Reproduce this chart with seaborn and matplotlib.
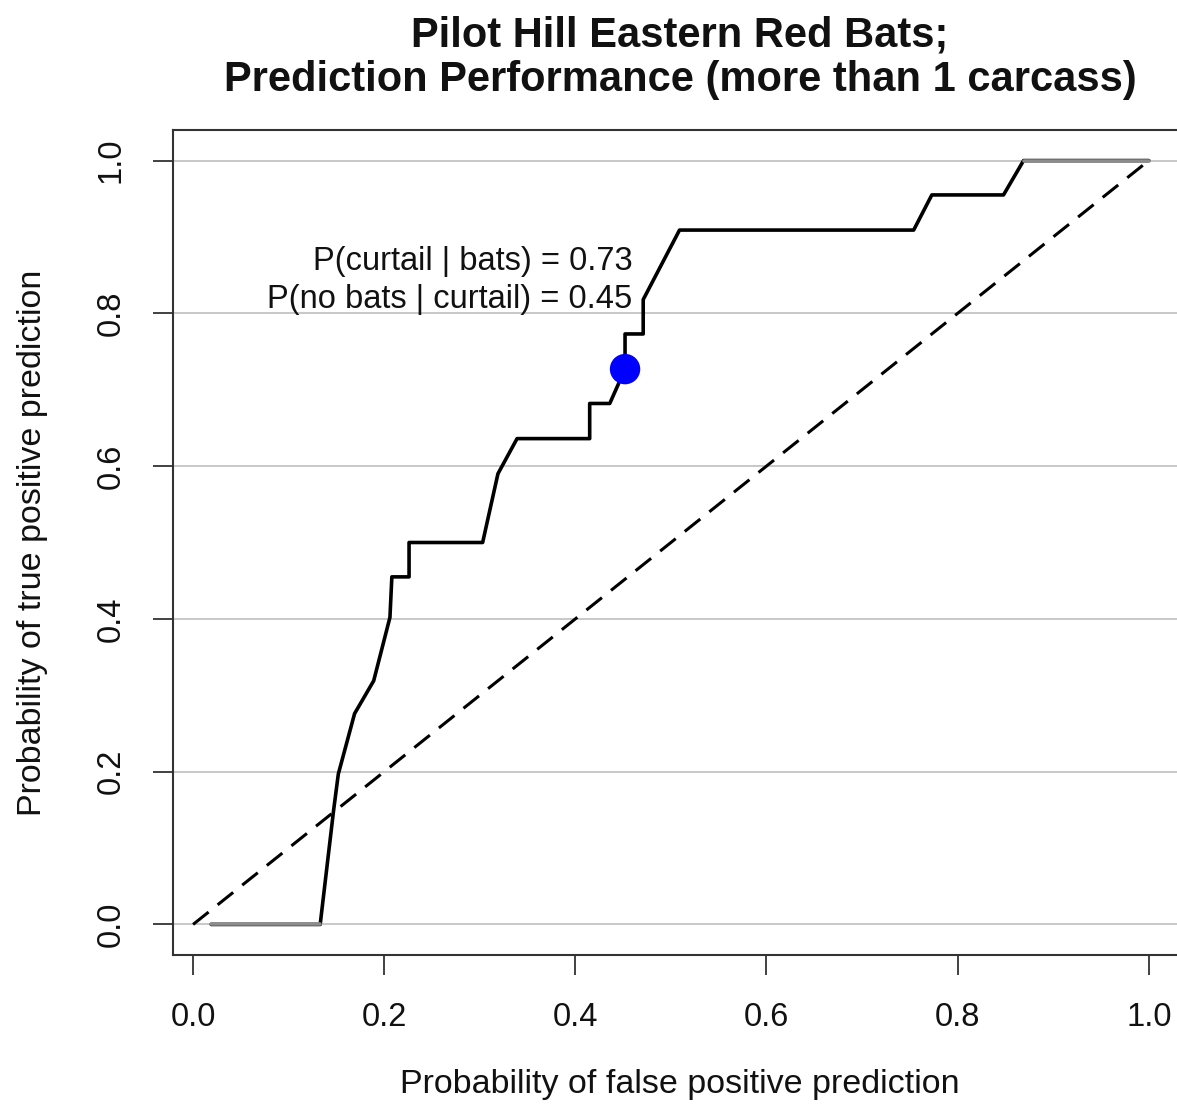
import matplotlib
matplotlib.use("Agg")
import matplotlib.pyplot as plt
import seaborn as sns
import pandas as pd

# ---- data ----
fpr = [0.019, 0.133, 0.147, 0.152, 0.169, 0.189, 0.206, 0.208, 0.226, 0.226,
       0.303, 0.319, 0.339, 0.415, 0.415, 0.436, 0.452, 0.452, 0.471, 0.471,
       0.509, 0.754, 0.773, 0.848, 0.869, 1.000]
tpr = [0.000, 0.000, 0.149, 0.197, 0.276, 0.319, 0.402, 0.455, 0.455, 0.500,
       0.500, 0.590, 0.636, 0.636, 0.682, 0.682, 0.727, 0.773, 0.773, 0.818,
       0.909, 0.909, 0.955, 0.955, 1.000, 1.000]
diag_x = [0.0, 1.0]
diag_y = [0.0, 1.0]
point_x = [0.452]
point_y = [0.727]
label_lines = ["P(curtail | bats) = 0.73", "P(no bats | curtail) = 0.45"]
ticks = [0.0, 0.2, 0.4, 0.6, 0.8, 1.0]
tick_labels = ["0.0", "0.2", "0.4", "0.6", "0.8", "1.0"]
title_text = "Pilot Hill Eastern Red Bats;\nPrediction Performance (more than 1 carcass)"
xlabel_text = "Probability of false positive prediction"
ylabel_text = "Probability of true positive prediction"

sns.set_style("ticks")
plt.rcParams['font.family'] = ['Liberation Sans', 'DejaVu Sans']

W, H = 1177, 1112
fig = plt.figure(figsize=(W / 100, H / 100), dpi=100)
left, right, top, bottom = 173, 1187, 130, 955
ax = fig.add_axes([left / W, 1 - bottom / H, (right - left) / W, (bottom - top) / H])

# grid lines
for t in ticks:
    ax.axhline(t, color="#c8c8c8", lw=1.4, zorder=1)

curve = pd.DataFrame({"fpr": fpr, "tpr": tpr})
sns.lineplot(data=curve, x="fpr", y="tpr", sort=False, estimator=None,
             color="black", lw=2.6, ax=ax, zorder=3)
# end segments drawn in gray as in the reference
sns.lineplot(x=fpr[:2], y=tpr[:2], sort=False, estimator=None,
             color="#8c8c8c", lw=2.6, ax=ax, zorder=4)
sns.lineplot(x=fpr[-2:], y=tpr[-2:], sort=False, estimator=None,
             color="#8c8c8c", lw=2.6, ax=ax, zorder=4)

ax.plot(diag_x, diag_y, color="black", lw=2.2, dashes=(6.5, 3.8), zorder=3)

sns.scatterplot(x=point_x, y=point_y, color="#0000ff", s=480, edgecolor="none",
                ax=ax, zorder=5)

ax.text(point_x[0] + 0.008, point_y[0] + 0.141, label_lines[0], ha="right", va="center",
        fontsize=23.5, color="#111111")
ax.text(point_x[0] + 0.008, point_y[0] + 0.091, label_lines[1], ha="right", va="center",
        fontsize=23.5, color="#111111")

ax.set_xlim(-0.021, 1.04)
ax.set_ylim(-0.04, 1.04)
ax.set_xticks(ticks)
ax.set_xticklabels(tick_labels)
ax.set_yticks(ticks)
ax.set_yticklabels(tick_labels, rotation=90, va="center")
ax.tick_params(axis="both", direction="out", length=14.5, width=1.3, color="#333333",
               labelsize=23.5, labelcolor="#111111", bottom=True, left=True)
ax.tick_params(axis="x", pad=19)
ax.tick_params(axis="y", pad=19)
for sp in ax.spines.values():
    sp.set_visible(True)
    sp.set_color("#333333")
    sp.set_linewidth(1.5)

ax.set_xlabel(xlabel_text, fontsize=24.5, labelpad=26, color="#111111")
ax.set_ylabel(ylabel_text, fontsize=24.5, labelpad=34, color="#111111")

fig.text(680 / W, 1 - 58 / H, title_text, ha="center", va="center",
         fontsize=30, fontweight="bold", linespacing=1.15, color="#111111")

fig.savefig("out.png", dpi=100)
